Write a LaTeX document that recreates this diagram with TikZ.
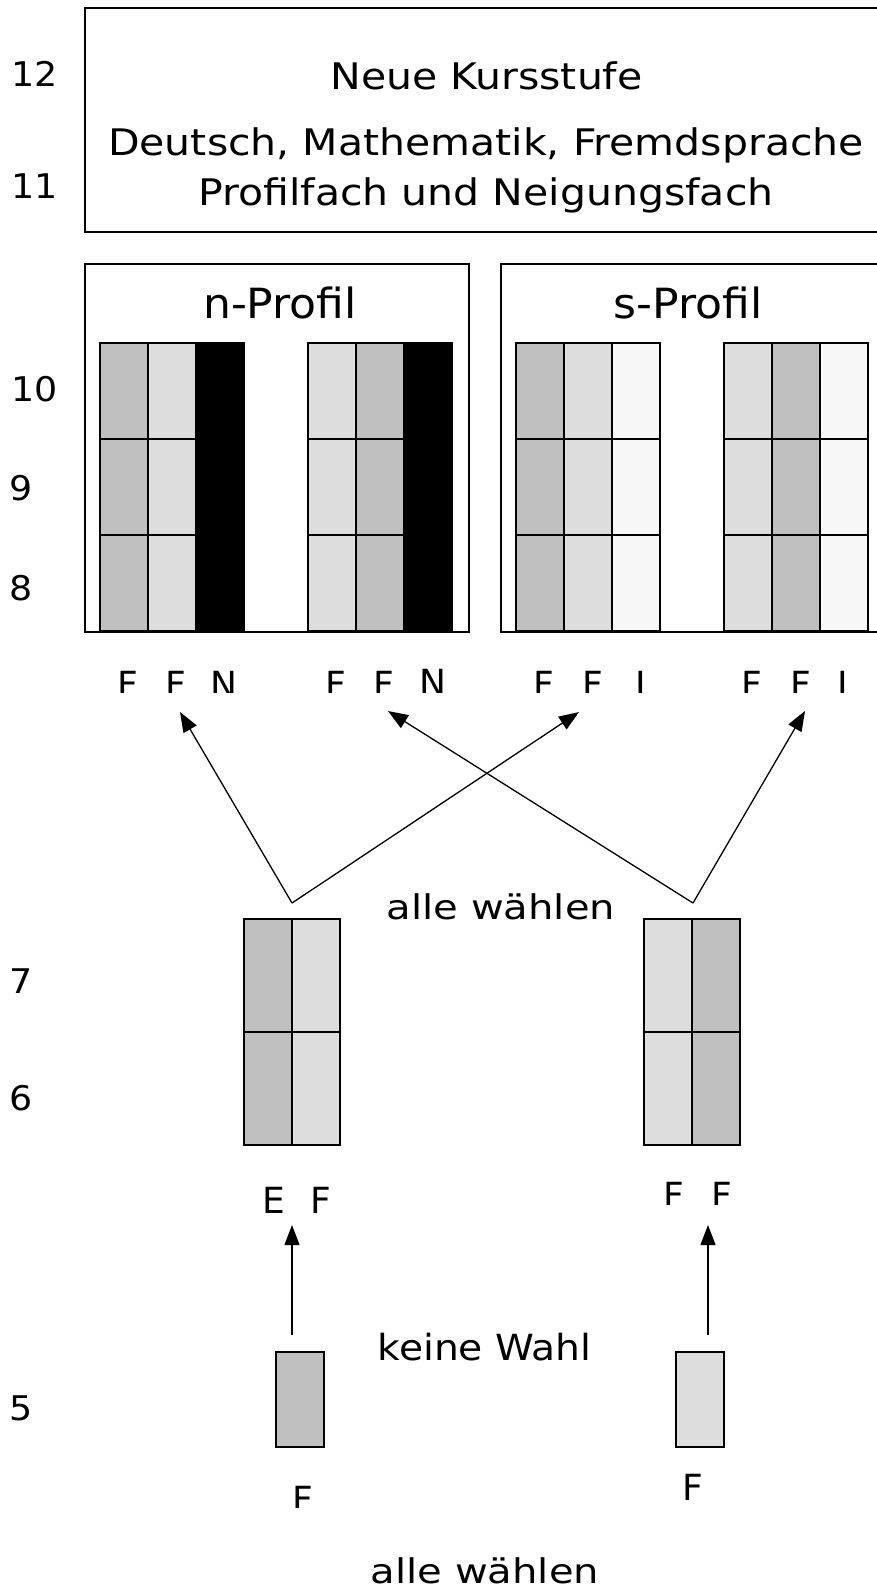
\documentclass[tikz,border=0pt]{standalone}
\usepackage{graphicx}
\usepackage{fontspec}
\setmainfont{DejaVu Sans}
\usetikzlibrary{arrows.meta}
\definecolor{dg}{HTML}{C0C0C0}
\definecolor{lg}{HTML}{DDDDDD}
\definecolor{vlg}{HTML}{F7F7F7}
\tikzset{
  frame/.style={draw=black, line width=1.5pt},
  cell/.style={draw=black, line width=1.8pt, inner sep=0pt, outer sep=0pt, anchor=north west},
  lbl/.style={inner sep=0pt, anchor=base, font=\fontsize{36}{36}\selectfont},
  num/.style={inner sep=0pt, anchor=base west, font=\fontsize{34}{34}\selectfont},
  big/.style={inner sep=0pt, anchor=base, font=\fontsize{36.6}{36.6}\selectfont},
  prof/.style={inner sep=0pt, anchor=base, font=\fontsize{41.6}{41.6}\selectfont},
  note/.style={inner sep=0pt, anchor=base, font=\fontsize{34}{34}\selectfont},
  arr/.style={line width=1.3pt, -{Triangle[length=20pt,width=15pt]}},
}
\begin{document}
\begin{tikzpicture}[x=1pt,y=-1pt]
\useasboundingbox (0,0) rectangle (877,1593);

% frames
\node[frame, inner sep=0pt, anchor=north west, minimum width=800pt, minimum height=224pt] (top) at (84,7) {};
\node[frame, inner sep=0pt, anchor=north west, minimum width=384pt, minimum height=368pt] (nbox) at (84,263) {};
\node[frame, inner sep=0pt, anchor=north west, minimum width=384pt, minimum height=368pt] (sbox) at (500,263) {};

% grade numbers
\node[num] (g12) at (11,86) {\scalebox{1.07}[1]{12}};
\node[num] (g11) at (11,198) {\scalebox{1.07}[1]{11}};
\node[num] (g10) at (11,401) {\scalebox{1.07}[1]{10}};
\node[num] (g9) at (9,500) {\scalebox{1.07}[1]{9}};
\node[num] (g8) at (9,600) {\scalebox{1.07}[1]{8}};
\node[num] (g7) at (9,993) {\scalebox{1.07}[1]{7}};
\node[num] (g6) at (9,1110) {\scalebox{1.07}[1]{6}};
\node[num] (g5) at (9,1420) {\scalebox{1.07}[1]{5}};

% top box texts
\node[big] (t1) at (486.5,89) {\scalebox{1.12}[1]{Neue Kursstufe}};
\node[big] (t2) at (486,155) {\scalebox{1.12}[1]{Deutsch, Mathematik, Fremdsprache}};
\node[big] (t3) at (486,205) {\scalebox{1.12}[1]{Profilfach und Neigungsfach}};

% profile titles
\node[prof] (np) at (280,318) {\scalebox{1.06}[1]{n-Profil}};
\node[prof] (sp) at (688,318) {\scalebox{1.06}[1]{s-Profil}};

% upper cells (grades 8-10)
\foreach \x/\c in {100/dg,148/lg,308/lg,356/dg,516/dg,564/lg,612/vlg,724/lg,772/dg,820/vlg}
  \foreach \y in {343,439,535}
    \node[cell, fill=\c, minimum width=48pt, minimum height=96pt] (c-\x-\y) at (\x,\y) {};
\node[cell, fill=black, minimum width=48pt, minimum height=288pt] (blackA) at (196,343) {};
\node[cell, fill=black, minimum width=48pt, minimum height=288pt] (blackB) at (404,343) {};

% labels below profiles (clipped)
\begin{scope}
\clip (90,640) rectangle (877,692);
\node[lbl] (nf1) at (128.3,697) {F};
\node[lbl] (nf2) at (176,697) {F};
\node[lbl] (nn1) at (223.7,697) {N};
\node[lbl] (nf3) at (336.3,697) {F};
\node[lbl] (nf4) at (384,697) {F};
\node[lbl] (nn2) at (433,695) {N};
\node[lbl] (sf1) at (543.8,697) {F};
\node[lbl] (sf2) at (592.5,697) {F};
\node[lbl] (si1) at (640.8,697) {I};
\node[lbl] (sf3) at (752,697) {F};
\node[lbl] (sf4) at (800.5,697) {F};
\node[lbl] (si2) at (842.5,697) {I};
\end{scope}

% grades 6-7 cells
\foreach \x/\c in {244/dg,292/lg,644/lg,692/dg}
  \foreach \y in {919,1032}
    \node[cell, fill=\c, minimum width=48pt, minimum height=113pt] (m-\x-\y) at (\x,\y) {};

\node[note] (aw1) at (501,919) {\scalebox{1.18}[1]{alle wählen}};

% labels under 6-7
\begin{scope}
\clip (240,1170) rectangle (360,1213.5);
\node[lbl] (le) at (273.5,1213) {E};
\node[lbl] (lf) at (321,1213) {F};
\end{scope}
\begin{scope}
\clip (640,1165) rectangle (760,1204);
\node[lbl] (rf1) at (674,1208) {F};
\node[lbl] (rf2) at (721.7,1208) {F};
\end{scope}

% grade 5
\node[cell, fill=dg, minimum width=48pt, minimum height=95pt] (fiveL) at (276,1352) {};
\node[cell, fill=lg, minimum width=48pt, minimum height=95pt] (fiveR) at (676,1352) {};
\node[inner sep=0pt, anchor=base, font=\fontsize{36}{36}\selectfont] (kw) at (484.7,1360) {\scalebox{1.09}[1]{keine Wahl}};

\begin{scope}
\clip (270,1470) rectangle (340,1507);
\node[lbl] (bf1) at (303.3,1512) {F};
\end{scope}
\node[lbl] (bf2) at (693.3,1500) {F};

\node[note] (aw2) at (485,1583) {\scalebox{1.18}[1]{alle wählen}};

% arrows
\coordinate (apL) at (292,903);
\coordinate (apR) at (693,903);
\coordinate (tipA) at (180,712);
\coordinate (tipB) at (579,712);
\coordinate (tipC) at (388,711);
\coordinate (tipD) at (805,711);
\draw[arr] (apL) -- (tipA);
\draw[arr] (apL) -- (tipB);
\draw[arr] (apR) -- (tipC);
\draw[arr] (apR) -- (tipD);

\coordinate (vL0) at (292,1335);
\coordinate (vL1) at (292,1225);
\coordinate (vR0) at (708,1335);
\coordinate (vR1) at (708,1225);
\draw[arr] (vL0) -- (vL1);
\draw[arr] (vR0) -- (vR1);
\end{tikzpicture}
\end{document}
